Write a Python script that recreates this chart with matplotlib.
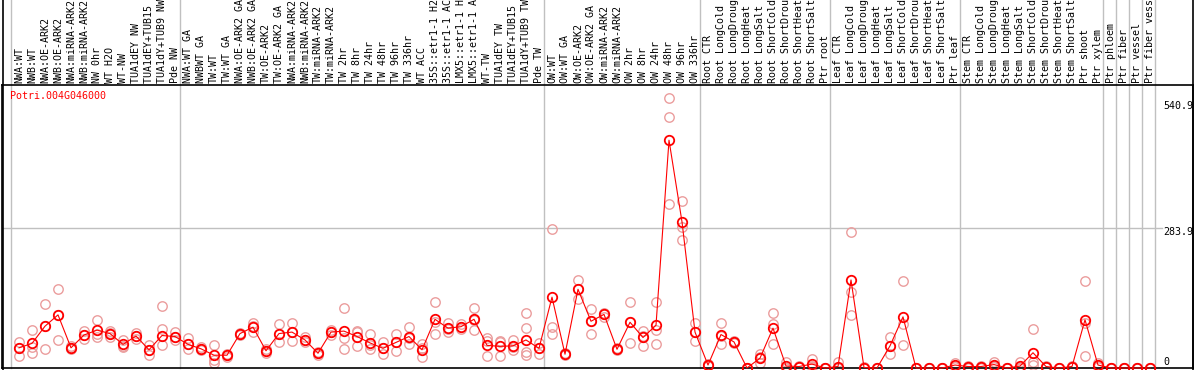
import matplotlib
matplotlib.use("Agg")
import matplotlib.pyplot as plt
from matplotlib.lines import Line2D

# sample names, in plot order
labels = [
    "NWA:WT", "NWB:WT", "NWA:OE-ARK2", "NWB:OE-ARK2", "NWA:miRNA-ARK2", "NWB:miRNA-ARK2",
    "NW 0hr", "WT H2O", "WT-NW", "TUA1dEY NW", "TUA1dEY+TUB15 NW", "TUA1dY+TUB9 NW", "Pde NW",
    "NWA:WT GA", "NWBWT GA", "TW:WT", "TW:WT GA", "NWA:OE-ARK2 GA", "NWB:OE-ARK2 GA",
    "TW:OE-ARK2", "TW:OE-ARK2 GA", "NWA:miRNA-ARK2", "NWB:miRNA-ARK2", "TW:miRNA-ARK2",
    "TW:miRNA-ARK2", "TW 2hr", "TW 8hr", "TW 24hr", "TW 48hr", "TW 96hr", "TW 336hr",
    "WT ACC", "35S::etr1-1 H2O", "35S::etr1-1 ACC", "LMX5::etr1-1 H2O", "LMX5::etr1-1 ACC",
    "WT-TW", "TUA1dEY TW", "TUA1dEY+TUB15 TW", "TUA1dY+TUB9 TW", "Pde TW",
    "OW:WT", "OW:WT GA", "OW:OE-ARK2", "OW:OE-ARK2 GA", "OW:miRNA-ARK2", "OW:miRNA-ARK2",
    "OW 2hr", "OW 8hr", "OW 24hr", "OW 48hr", "OW 96hr", "OW 336hr",
    "Root CTR", "Root LongCold", "Root LongDrought", "Root LongHeat", "Root LongSalt",
    "Root ShortCold", "Root ShortDrought", "Root ShortHeat", "Root ShortSalt", "Ptr root",
    "Leaf CTR", "Leaf LongCold", "Leaf LongDrought", "Leaf LongHeat", "Leaf LongSalt",
    "Leaf ShortCold", "Leaf ShortDrought", "Leaf ShortHeat", "Leaf ShortSalt", "Ptr leaf",
    "Stem CTR", "Stem LongCold", "Stem LongDrought", "Stem LongHeat", "Stem LongSalt",
    "Stem ShortCold", "Stem ShortDrought", "Stem ShortHeat", "Stem ShortSalt", "Ptr shoot",
    "Ptr xylem", "Ptr phloem", "Ptr fiber", "Ptr vessel", "Ptr fiber vessel",
]

# index where each experiment block starts (last entry = end)
group_starts = [0, 13, 41, 53, 63, 73, 84, 85, 86, 87, 88]

means = [
    41, 50, 85, 108, 41, 67, 77, 70, 48, 65, 37, 66, 64,
    48, 39, 26, 26, 70, 83, 35, 70, 73, 57, 30, 73, 75, 64, 51, 40,
    52, 64, 37, 99, 81, 84, 99, 46, 44, 45, 57, 40,
    144, 28, 160, 95, 109, 38, 93, 62, 87, 463, 297, 73,
    6, 68, 53, 0, 20, 81, 4, 3, 8, 0,
    3, 179, 1, 0, 45, 104, 0, 0, 0, 6,
    3, 3, 7, 0, 4, 31, 3, 0, 3, 98, 6,
    0, 0, 0, 0,
]

reps = [
    [53, 41, 24], [77, 43, 31], [130, 86, 39], [160, 107, 57], [44, 40, 38],
    [76, 67, 59], [98, 70, 62], [76, 72, 64], [57, 45, 43], [72, 65, 58],
    [47, 37, 26], [125, 80, 47], [73, 62, 57],
    [60, 48, 38], [42, 39, 36], [47, 16, 10], [28, 26, 23], [72, 70, 68],
    [91, 85, 73], [38, 35, 30], [89, 70, 52], [91, 73, 55], [62, 57, 52],
    [33, 30, 27], [78, 73, 68], [122, 60, 39], [75, 73, 45], [69, 47, 38],
    [52, 40, 28], [70, 52, 35], [83, 60, 49], [49, 40, 23], [134, 94, 70],
    [91, 79, 74], [89, 84, 79], [122, 98, 77], [60, 55, 24], [55, 53, 24],
    [57, 42, 37], [111, 81, 33, 26], [51, 40, 28],
    [283, 83, 70], [30, 28, 26], [179, 160, 140], [120, 95, 69], [112, 110, 104],
    [40, 38, 36], [134, 93, 51], [75, 65, 45], [134, 77, 49], [548, 510, 333],
    [339, 287, 260], [91, 73, 54],
    [8, 6, 4], [91, 66, 48], [55, 53, 50], [1, 0, 0], [28, 22, 10],
    [111, 89, 49], [13, 0, 0], [4, 3, 2], [18, 4, 2], [0, 0, 0],
    [12, 0, 0], [276, 154, 108], [3, 1, 0], [0, 0, 0], [64, 45, 28],
    [177, 89, 47], [0, 0, 0], [0, 0, 0], [0, 0, 0], [11, 5, 2],
    [5, 3, 1], [5, 3, 1], [13, 5, 3], [0, 0, 0], [13, 0, 0],
    [79, 13, 6], [4, 3, 2], [1, 0, 0], [4, 3, 2], [176, 91, 24], [11, 5, 2],
    [0, 0, 0], [0, 0, 0], [0, 0, 0], [0, 0, 0],
]

ytick_vals = [540.9, 283.9, 0]
ytick_text = ["540.9", "283.9", "0"]
gene = "Potri.004G046000"

W, H = 1194, 370
fig = plt.figure(figsize=(W / 100, H / 100), dpi=100)
ax = fig.add_axes([2 / W, 2 / H, 1191 / W, 283 / H])
ax.set_xlim(-17 / 13, 1174 / 13)
ax.set_ylim(0, 575.2)
ax.set_xticks([])
ax.set_yticks([])
for s in ax.spines.values():
    s.set_linewidth(1.2)
    s.set_color("black")

mono = "DejaVu Sans Mono"
fs = 7.2
x = list(range(len(labels)))

# group separators, also running through the label strip
for g in group_starts:
    ax.axvline(g - 0.62, ymin=0, ymax=1 + 86 / 283, color="#c0c0c0", lw=1.0,
               clip_on=False, zorder=1)
ax.plot([-17 / 13, 87.9], [283.9, 283.9], color="#c0c0c0", lw=1.0, zorder=1)

# left/right frame through the label strip
fig.add_artist(Line2D([2.5 / W, 2.5 / W], [0, 1], color="black", lw=1.2))
fig.add_artist(Line2D([1192.5 / W, 1192.5 / W], [0, 1], color="black", lw=1.2))

for i, r in enumerate(reps):
    ax.plot([i] * len(r), r, "o", ms=6.8, mfc="none", mec="#eb9d9d", mew=1.0,
            clip_on=False, zorder=2)
ax.plot(x, means, "-", color="red", lw=0.8, clip_on=False, zorder=3)
ax.plot(x, means, "o", ms=6.8, mfc="none", mec="red", mew=1.3, clip_on=False, zorder=4)

for i, lab in enumerate(labels):
    ax.text(i, 1 + 2 / 283, lab, transform=ax.get_xaxis_transform(), rotation=90,
            ha="center", va="bottom", fontsize=fs, family=mono, clip_on=False)

for v, t in zip(ytick_vals, ytick_text):
    if v == 0:
        ax.text(88.0, 6, t, ha="left", va="baseline", fontsize=fs, family=mono)
    else:
        ax.text(88.0, v + 2, t, ha="left", va="top", fontsize=fs, family=mono)

ax.text(-0.69, 563, gene, color="red", ha="left", va="top", fontsize=fs, family=mono)

fig.savefig("out.png", dpi=100)
